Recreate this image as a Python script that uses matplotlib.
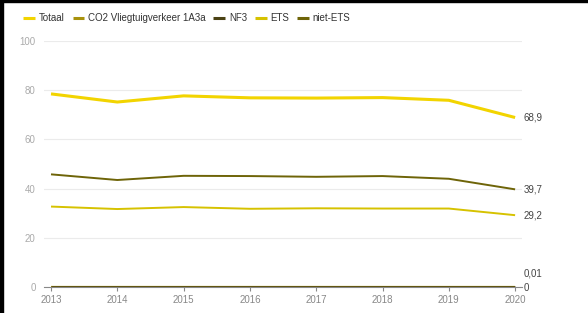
import matplotlib
matplotlib.use('Agg')
import matplotlib.pyplot as plt
from matplotlib.patches import Rectangle

# Data
years = [2013, 2014, 2015, 2016, 2017, 2018, 2019, 2020]
totaal = [78.5, 75.2, 77.7, 76.9, 76.8, 77.0, 75.9, 68.9]
co2_vliegtuig = [0.0, 0.0, 0.0, 0.0, 0.0, 0.0, 0.0, 0.0]
nf3 = [0.01, 0.01, 0.01, 0.01, 0.01, 0.01, 0.01, 0.01]
ets = [32.7, 31.7, 32.5, 31.8, 32.0, 31.9, 31.9, 29.2]
niet_ets = [45.8, 43.5, 45.2, 45.1, 44.8, 45.1, 44.0, 39.7]

series = [
    ('Totaal', totaal, '#f2d400', 2.2),
    ('CO2 Vliegtuigverkeer 1A3a', co2_vliegtuig, '#a8920c', 1.6),
    ('NF3', nf3, '#4a4214', 1.8),
    ('ETS', ets, '#d6c200', 1.4),
    ('niet-ETS', niet_ets, '#6e6408', 1.4),
]
end_labels = [('68,9', 68.9, 0), ('39,7', 39.7, 0), ('29,2', 29.2, 0),
              ('0,01', 0.01, 10), ('0', 0.0, -1)]

plt.rcParams['font.family'] = ['Liberation Sans', 'DejaVu Sans']

fig = plt.figure(figsize=(5.88, 3.13), dpi=100)
ax = fig.add_axes([0.0748, 0.083, 0.8132, 0.786])

handles = []
for name, vals, color, lw in series:
    h, = ax.plot(years, vals, color=color, lw=lw, label=name,
                 solid_capstyle='butt', zorder=3)
    handles.append(h)

ax.set_xlim(2013 - 0.106, 2020 + 0.106)
ax.set_ylim(0, 100)
ax.set_yticks([0, 20, 40, 60, 80, 100])
ax.set_xticks(years)
ax.grid(axis='y', color='#ebebeb', lw=0.8)
ax.set_axisbelow(True)
for s in ['top', 'right', 'left']:
    ax.spines[s].set_visible(False)
ax.spines['bottom'].set_color('#888888')
ax.spines['bottom'].set_linewidth(0.8)
ax.tick_params(axis='y', length=0, pad=6, labelsize=7, labelcolor='#aaaaaa')
ax.tick_params(axis='x', length=3, width=0.8, color='#888888', pad=3,
               labelsize=7, labelcolor='#888888')

for txt, v, dy in end_labels:
    ax.annotate(txt, xy=(2020, v), xytext=(6, dy), textcoords='offset points',
                va='center', ha='left', fontsize=7, color='#444444')

leg = fig.legend(handles=handles, loc='upper left', bbox_to_anchor=(0.025, 0.985),
                 ncol=5, frameon=False, fontsize=7, handlelength=1.2,
                 handletextpad=0.4, columnspacing=0.8, labelcolor='#333333')
for lh in leg.legend_handles:
    lh.set_linewidth(2.2)

# dark frame edges seen in the reference
fig.patches.append(Rectangle((0, 0), 3 / 588, 1, transform=fig.transFigure,
                             color='black', zorder=10))
fig.patches.append(Rectangle((0, 1 - 1.5 / 313), 1, 1.5 / 313,
                             transform=fig.transFigure, color='black', zorder=10))

fig.savefig('out.png', dpi=100)
